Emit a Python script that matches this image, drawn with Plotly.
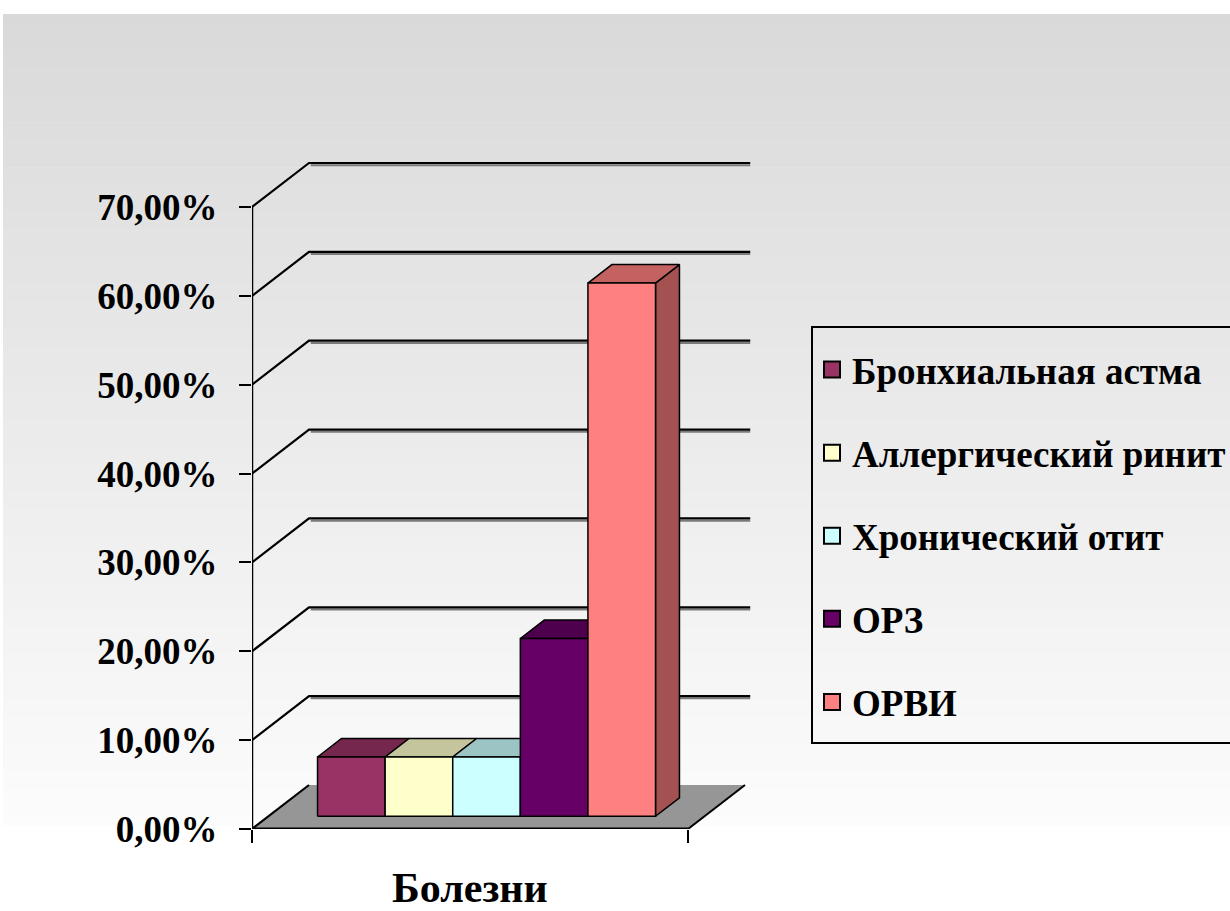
import plotly.graph_objects as go

# ---------------- data ----------------
categories = ["Бронхиальная астма", "Аллергический ринит", "Хронический отит", "ОРЗ", "ОРВИ"]
values = [6.67, 6.67, 6.67, 20.0, 60.0]          # percent
colors = ["#993366", "#FFFFCC", "#CCFFFF", "#660066", "#FF8080"]
tick_values = [0, 10, 20, 30, 40, 50, 60, 70]
tick_labels = ["0,00%", "10,00%", "20,00%", "30,00%", "40,00%", "50,00%", "60,00%", "70,00%"]
axis_title = "Болезни"

# ---------------- geometry / style ----------------
FIG_W, FIG_H = 1230, 911
L_PX, R_PX = 252, 760          # plot area left / right (px)
T_PX, B_PX = 150, 829          # plot area top / bottom (px)
PX_PER_CAT = 436.0             # px per category width
PX_PER_PCT = (829 - 207) / 70.0
XR = (R_PX - L_PX) / PX_PER_CAT
YR = (B_PX - T_PX) / PX_PER_PCT
DX = 57 / PX_PER_CAT           # depth shift in x units
DY = 44 / PX_PER_PCT           # depth shift in y units
F1, F2 = 0.29, 0.71            # bar depth (front / back fraction)
GAP_WIDTH = 1.45
N = len(values)
BW = 1.0 / (N + GAP_WIDTH)
G0 = (1.0 - BW * N) / 2.0
FONT = "Liberation Serif"


def P(x, f, v):
    return x + f * DX, v + f * DY


def shade(hexcol, k):
    h = hexcol.lstrip("#")
    r, g, b = (int(h[i:i + 2], 16) for i in (0, 2, 4))
    return "#%02X%02X%02X" % (int(r * k), int(g * k), int(b * k))


def px2paper_x(px):
    return (px - L_PX) / (R_PX - L_PX)


def px2paper_y(py):
    return (B_PX - py) / (B_PX - T_PX)


def poly(points, fill, line_color="black", line_width=1.5):
    xs = [p[0] for p in points] + [points[0][0]]
    ys = [p[1] for p in points] + [points[0][1]]
    return go.Scatter(x=xs, y=ys, mode="lines", fill="toself", fillcolor=fill,
                      line=dict(color=line_color, width=line_width),
                      showlegend=False, hoverinfo="skip", cliponaxis=False)


def polyline(xs, ys, width=2, color="black"):
    return go.Scatter(x=xs, y=ys, mode="lines", line=dict(color=color, width=width),
                      showlegend=False, hoverinfo="skip", cliponaxis=False)


fig = go.Figure()

# floor
floor_pts = [P(0, 0, 0), P(1, 0, 0), P(1, 1, 0), P(0, 1, 0)]
fig.add_trace(poly(floor_pts, "#969696", line_color="rgba(0,0,0,0)", line_width=0))

# back wall gridlines + left-wall diagonals
gx, gy = [], []
sx, sy = [], []
for v in tick_values:
    a = P(0, 0, v)
    b = P(0, 1, v)
    if v == 0:
        gx += [a[0], b[0], None]
        gy += [a[1], b[1], None]
    else:
        c = (1 + DX + 0.012, b[1])
        gx += [a[0], b[0], c[0], None]
        gy += [a[1], b[1], c[1], None]
        sx += [b[0] + 0.004, c[0], None]
        sy += [b[1] - 0.25, c[1] - 0.25, None]
fig.add_trace(polyline(sx, sy, width=2, color="#7a7a7a"))
fig.add_trace(polyline(gx, gy, width=2.2))

# floor right edge and axis lines
fr = [P(1, 0, 0), P(1, 1, 0)]
fig.add_trace(polyline([fr[0][0], fr[1][0]], [fr[0][1], fr[1][1]], width=2))
fig.add_trace(polyline([0, 0], [0, tick_values[-1]], width=2.5))
fig.add_trace(polyline([0, 1], [0, 0], width=3))

# bars (painter's order: side, top, front)
for i, (name, v, col) in enumerate(zip(categories, values, colors)):
    x0 = G0 + i * BW
    x1 = x0 + BW
    side = [P(x1, F1, 0), P(x1, F2, 0), P(x1, F2, v), P(x1, F1, v)]
    top = [P(x0, F1, v), P(x1, F1, v), P(x1, F2, v), P(x0, F2, v)]
    front = [P(x0, F1, 0), P(x1, F1, 0), P(x1, F1, v), P(x0, F1, v)]
    fig.add_trace(poly(side, shade(col, 0.64)))
    fig.add_trace(poly(top, shade(col, 0.77)))
    fig.add_trace(poly(front, col))

# legend-only entries
for i, (name, col) in enumerate(zip(categories, colors)):
    fig.add_trace(go.Scatter(
        x=[None], y=[None], mode="markers", name=name, legendgroup=f"g{i}",
        marker=dict(symbol="square", size=16, color=col, line=dict(color="black", width=2)),
    ))

# background gradient (chart area)
shapes = []
top_px, bot_px = 14, 825
left_px, right_px = 3, 1240
n_strips = 90
c_top, c_bot = 217, 252
for k in range(n_strips):
    y0 = top_px + (bot_px - top_px) * k / n_strips
    y1 = top_px + (bot_px - top_px) * (k + 1) / n_strips
    c = int(round(c_top + (c_bot - c_top) * (k + 0.5) / n_strips))
    shapes.append(dict(type="rect", xref="paper", yref="paper", layer="below",
                       x0=px2paper_x(left_px), x1=px2paper_x(right_px),
                       y0=px2paper_y(y1 + 0.5), y1=px2paper_y(y0),
                       fillcolor="rgb(%d,%d,%d)" % (c, c, c), line=dict(width=0)))
# legend frame
shapes.append(dict(type="rect", xref="paper", yref="paper", layer="above",
                   x0=px2paper_x(812), x1=px2paper_x(1240),
                   y0=px2paper_y(743), y1=px2paper_y(327),
                   fillcolor="rgba(0,0,0,0)", line=dict(color="black", width=2)))

fig.update_layout(
    width=FIG_W, height=FIG_H,
    margin=dict(l=L_PX, r=FIG_W - R_PX, t=T_PX, b=FIG_H - B_PX, pad=0, autoexpand=False),
    paper_bgcolor="white", plot_bgcolor="rgba(0,0,0,0)",
    font=dict(family=FONT, color="black"),
    shapes=shapes,
    showlegend=True,
    legend=dict(
        x=px2paper_x(812), xanchor="left",
        y=px2paper_y(339), yanchor="top",
        bgcolor="rgba(0,0,0,0)", borderwidth=0,
        font=dict(family=FONT, size=37, color="black", weight="bold"),
        tracegroupgap=32, itemsizing="trace",
    ),
    xaxis=dict(range=[0, XR], showgrid=False, zeroline=False, showline=False,
               tickmode="array", tickvals=[0, 1], ticks="outside", ticklen=13,
               tickwidth=2, tickcolor="black", showticklabels=False, fixedrange=True,
               automargin=False),
    yaxis=dict(range=[0, YR], showgrid=False, zeroline=False, showline=False,
               tickmode="array", tickvals=tick_values, ticktext=tick_labels,
               ticks="outside", ticklen=12, tickwidth=2, tickcolor="black",
               ticklabelstandoff=14, automargin=False,
               tickfont=dict(family=FONT, size=37, color="black", weight="bold"),
               fixedrange=True),
    annotations=[dict(text=axis_title, x=0.5, xref="x", y=px2paper_y(888), yref="paper",
                      xanchor="center", yanchor="middle", showarrow=False,
                      font=dict(family=FONT, size=42, color="black", weight="bold"))],
)

fig.write_html("out.html")
